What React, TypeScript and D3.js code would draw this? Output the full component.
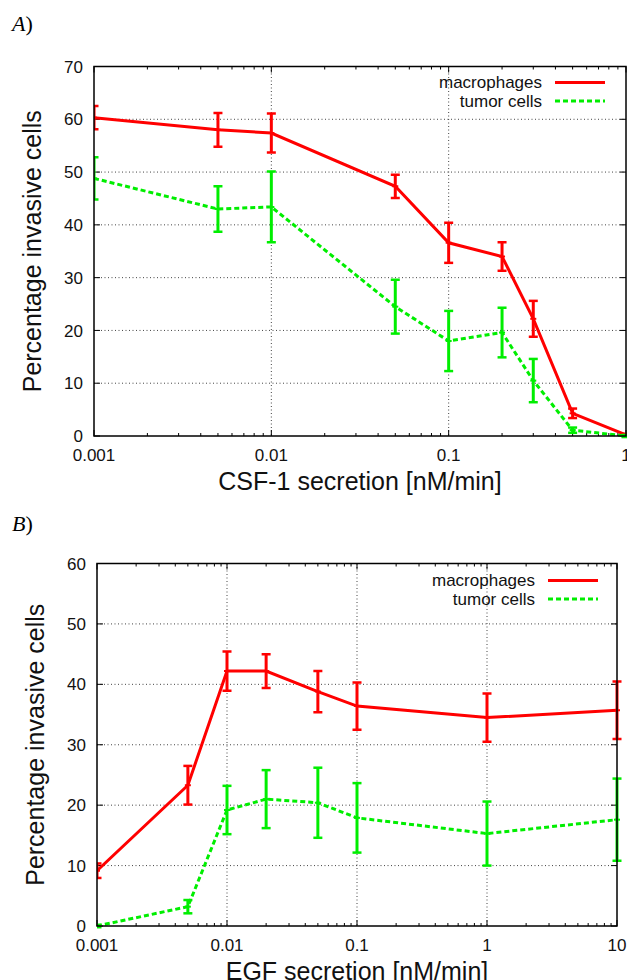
import React from "react";
import * as d3 from "d3";

// Panel A: CSF-1 secretion
const csfX = [0.001, 0.005, 0.01, 0.05, 0.1, 0.2, 0.3, 0.5, 1];
const csfMacro = [60.3, 58.0, 57.4, 47.3, 36.6, 34.0, 22.2, 4.3, 0.2];
const csfMacroErr = [2.2, 3.2, 3.7, 2.2, 3.8, 2.7, 3.4, 0.9, 0.2];
const csfTumor = [48.8, 43.0, 43.4, 24.5, 18.0, 19.6, 10.5, 1.1, 0];
const csfTumorErr = [4.0, 4.3, 6.7, 5.1, 5.7, 4.7, 4.1, 0.5, 0.2];

// Panel B: EGF secretion
const egfX = [0.001, 0.005, 0.01, 0.02, 0.05, 0.1, 1, 10];
const egfMacro = [9.15, 23.3, 42.2, 42.2, 38.8, 36.4, 34.5, 35.7];
const egfMacroErr = [1.2, 3.2, 3.25, 2.8, 3.4, 3.9, 4.0, 4.75];
const egfTumor = [0, 3.2, 19.2, 21.0, 20.4, 17.9, 15.3, 17.6];
const egfTumorErr = [0.2, 1.1, 4.0, 4.8, 5.8, 5.75, 5.3, 6.8];

const csfXTicks = [0.001, 0.01, 0.1, 1];
const csfXTickLabels = ["0.001", "0.01", "0.1", "1"];
const csfYTicks = [0, 10, 20, 30, 40, 50, 60, 70];
const egfXTicks = [0.001, 0.01, 0.1, 1, 10];
const egfXTickLabels = ["0.001", "0.01", "0.1", "1", "10"];
const egfYTicks = [0, 10, 20, 30, 40, 50, 60];

const seriesNames = ["macrophages", "tumor cells"];

const FONT = "'Liberation Sans', Arial, Helvetica, sans-serif";
const RED = "#ff0000";
const GREEN = "#00ee00";

type PanelProps = {
  left: number; right: number; top: number; bottom: number;
  xDomain: [number, number]; yMax: number;
  xTicks: number[]; xTickLabels: string[]; yTicks: number[];
  xs: number[]; macro: number[]; macroErr: number[]; tumor: number[]; tumorErr: number[];
  xLabel: string; tag: string; tagY: number; yLabelX: number;
  legendTextX: number; legendY: number;
  clipId: string;
};

function Panel(p: PanelProps) {
  const x = d3.scaleLog().domain(p.xDomain).range([p.left, p.right]);
  const y = d3.scaleLinear().domain([0, p.yMax]).range([p.bottom, p.top]);
  const line = d3.line<[number, number]>().x(d => x(d[0])).y(d => y(d[1]));
  const minor: number[] = [];
  let dec = p.xDomain[0];
  while (dec < p.xDomain[1] * 0.999) {
    for (let k = 2; k <= 9; k++) minor.push(dec * k);
    dec *= 10;
  }
  const series = [
    { vals: p.macro, err: p.macroErr, color: RED, dash: undefined as string | undefined },
    { vals: p.tumor, err: p.tumorErr, color: GREEN, dash: "5,3" },
  ];
  const cx = (p.left + p.right) / 2;
  const cy = (p.top + p.bottom) / 2;
  const legGap = 18.5;
  return (
    <g>
      <text x={12} y={p.tagY} fontFamily="'Liberation Serif', 'DejaVu Serif', serif" fontSize={22}>
        <tspan fontStyle="italic">{p.tag}</tspan>
        <tspan>)</tspan>
      </text>
      <defs>
        <clipPath id={p.clipId}>
          <rect x={p.left} y={p.top - 10} width={p.right - p.left + 10} height={p.bottom - p.top + 14} />
        </clipPath>
      </defs>
      {/* grid */}
      {p.yTicks.filter(t => t > 0 && t < p.yMax).map(t => (
        <line key={"gy" + t} x1={p.left} x2={p.right} y1={y(t)} y2={y(t)} stroke="#444" strokeWidth={1} strokeDasharray="1,2.5" />
      ))}
      {p.xTicks.filter(t => t > p.xDomain[0] && t < p.xDomain[1]).map(t => (
        <line key={"gx" + t} x1={x(t)} x2={x(t)} y1={p.top} y2={p.bottom} stroke="#444" strokeWidth={1} strokeDasharray="1,2.5" />
      ))}
      {/* ticks */}
      {p.yTicks.map(t => (
        <g key={"ty" + t}>
          <line x1={p.left} x2={p.left + 6} y1={y(t)} y2={y(t)} stroke="#000" strokeWidth={1} />
          <line x1={p.right} x2={p.right - 6} y1={y(t)} y2={y(t)} stroke="#000" strokeWidth={1} />
          <text x={p.left - 11} y={y(t)} dy="0.36em" textAnchor="end" fontFamily={FONT} fontSize={17} fill="#111">{t}</text>
        </g>
      ))}
      {p.xTicks.map((t, i) => (
        <g key={"tx" + t}>
          <line x1={x(t)} x2={x(t)} y1={p.bottom} y2={p.bottom - 6} stroke="#000" strokeWidth={1} />
          <line x1={x(t)} x2={x(t)} y1={p.top} y2={p.top + 6} stroke="#000" strokeWidth={1} />
          <text x={x(t)} y={p.bottom + 25} textAnchor="middle" fontFamily={FONT} fontSize={17} fill="#111">{p.xTickLabels[i]}</text>
        </g>
      ))}
      {minor.map(t => (
        <g key={"m" + t}>
          <line x1={x(t)} x2={x(t)} y1={p.bottom} y2={p.bottom - 3} stroke="#000" strokeWidth={1} />
          <line x1={x(t)} x2={x(t)} y1={p.top} y2={p.top + 3} stroke="#000" strokeWidth={1} />
        </g>
      ))}
      {/* data */}
      <g clipPath={`url(#${p.clipId})`}>
        {series.map((s, si) => (
          <g key={"s" + si}>
            <path d={line(p.xs.map((xv, i) => [xv, s.vals[i]] as [number, number])) || ""} fill="none" stroke={s.color} strokeWidth={3} strokeDasharray={s.dash} />
            {p.xs.map((xv, i) => {
              const px = x(xv);
              const y1 = y(s.vals[i] + s.err[i]);
              const y2 = y(Math.max(s.vals[i] - s.err[i], -0.5));
              return (
                <g key={"e" + i} stroke={s.color}>
                  <line x1={px} x2={px} y1={y1} y2={y2} strokeWidth={3} />
                  <line x1={px - 4.5} x2={px + 4.5} y1={y1} y2={y1} strokeWidth={2.5} />
                  <line x1={px - 4.5} x2={px + 4.5} y1={y2} y2={y2} strokeWidth={2.5} />
                  <line x1={px - 3} x2={px + 3} y1={y(s.vals[i])} y2={y(s.vals[i])} strokeWidth={2} />
                </g>
              );
            })}
          </g>
        ))}
      </g>
      {/* frame */}
      <rect x={p.left} y={p.top} width={p.right - p.left} height={p.bottom - p.top} fill="none" stroke="#000" strokeWidth={1.5} />
      {/* legend */}
      {seriesNames.map((n, i) => (
        <g key={"l" + i}>
          <text x={p.legendTextX} y={p.legendY + i * legGap} dy="0.35em" textAnchor="end" fontFamily={FONT} fontSize={17} fill="#111">{n}</text>
          <line x1={p.legendTextX + 13} x2={p.legendTextX + 63} y1={p.legendY + i * legGap} y2={p.legendY + i * legGap} stroke={series[i].color} strokeWidth={3} strokeDasharray={series[i].dash} />
        </g>
      ))}
      {/* axis labels */}
      <text x={cx} y={p.bottom + 54} textAnchor="middle" fontFamily={FONT} fontSize={25} fill="#111">{p.xLabel}</text>
      <text transform={`translate(${p.yLabelX},${cy}) rotate(-90)`} textAnchor="middle" fontFamily={FONT} fontSize={25} fill="#111">Percentage invasive cells</text>
    </g>
  );
}

export default function App() {
  return (
    <svg width={627} height={980} style={{ position: "absolute", left: 0, top: 0, background: "#fff" }}>
      <rect width={627} height={980} fill="#fff" />
      <Panel left={94} right={626} top={66.5} bottom={436} xDomain={[0.001, 1]} yMax={70}
        xTicks={csfXTicks} xTickLabels={csfXTickLabels} yTicks={csfYTicks}
        xs={csfX} macro={csfMacro} macroErr={csfMacroErr} tumor={csfTumor} tumorErr={csfTumorErr}
        xLabel="CSF-1 secretion [nM/min]" tag="A" tagY={31} yLabelX={41} legendTextX={542} legendY={82.5} clipId="clipA" />
      <Panel left={97} right={617} top={563.5} bottom={926} xDomain={[0.001, 10]} yMax={60}
        xTicks={egfXTicks} xTickLabels={egfXTickLabels} yTicks={egfYTicks}
        xs={egfX} macro={egfMacro} macroErr={egfMacroErr} tumor={egfTumor} tumorErr={egfTumorErr}
        xLabel="EGF secretion [nM/min]" tag="B" tagY={531} yLabelX={44} legendTextX={535} legendY={580.5} clipId="clipB" />
    </svg>
  );
}
